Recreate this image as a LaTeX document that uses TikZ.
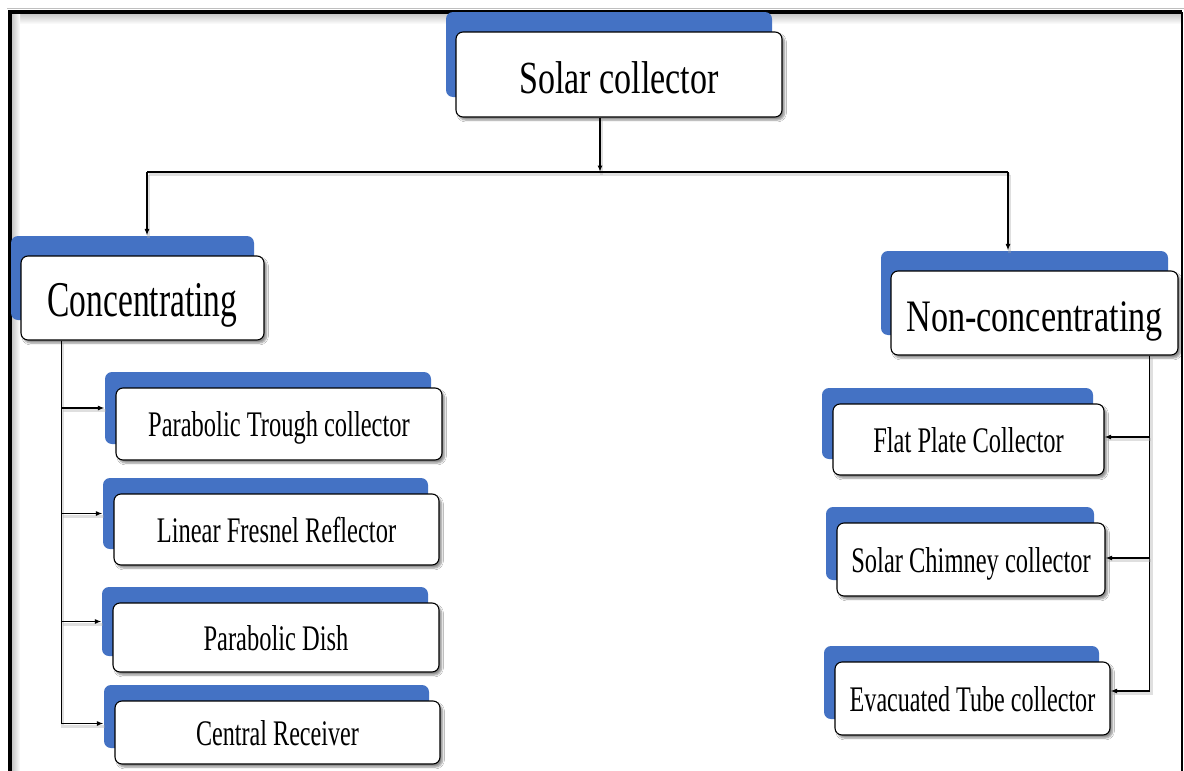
\documentclass[tikz,border=0pt]{standalone}
\usepackage{fontspec}
\setmainfont{Liberation Serif}
\usepackage{graphicx}
\usetikzlibrary{shadows,shadows.blur,arrows.meta}
\definecolor{pblue}{HTML}{4472C4}
\newcommand{\bxt}[3]{{\fontsize{#1pt}{#1pt}\selectfont\scalebox{#2}[1]{#3}}}
\tikzset{
  cbox/.style={draw=black, line width=1.1pt, rounded corners=7pt, fill=white, inner sep=0pt, text depth=0pt,
    blur shadow={shadow xshift=2.5pt, shadow yshift=-3pt, shadow blur steps=6, shadow opacity=45}},
  bigbox/.style={cbox, general shadow={fill=pblue, shadow xshift=-10pt, shadow yshift=20pt}},
  smallbox/.style={cbox, text height=25pt, general shadow={fill=pblue, shadow xshift=-11pt, shadow yshift=16pt}},
  lshadow/.style={preaction={draw=black!35, opacity=0.35, line width=3pt, arrows=-, transform canvas={xshift=1.5pt,yshift=-2.5pt}}},
  conn/.style={draw=black, line width=1.3pt, lshadow, -{Latex[length=6.5pt,width=5pt]}},
  plainline/.style={draw=black, line width=1.3pt, lshadow},
  barline/.style={draw=black, line width=2.2pt, lshadow},
}
\begin{document}
\begin{tikzpicture}[x=1pt,y=-1pt]
\useasboundingbox (0,0) rectangle (1184,771);
\fill[white] (0,0) rectangle (1184,771);
% frame
\draw[black!25, line width=1pt] (7,8.3) -- (1184,8.3);
\fill[top color=black!22, bottom color=white] (12,14) rectangle (1181,24);
\fill[left color=black!22, right color=white] (12,14) rectangle (20,771);
\draw[black, line width=4pt] (9.7,771) -- (9.7,12) -- (1182,12);
\draw[black, line width=1.6pt] (1182,12) -- (1182,771);

% nodes
\node[bigbox, text height=37.5pt, minimum width=326pt, minimum height=85pt] (sc) at (619,74.5) {\bxt{46}{0.74}{Solar collector}};
\node[bigbox, text height=36pt, minimum width=243pt, minimum height=84pt] (conc) at (142.5,298) {\bxt{50}{0.67}{Concentrating}};
\node[bigbox, text height=36.8pt, minimum width=287pt, minimum height=84pt] (nc) at (1034.5,313) {\bxt{45}{0.76}{Non-concentrating}};

\node[smallbox, minimum width=326pt, minimum height=72pt] (pt) at (279,424) {\bxt{36}{0.68}{Parabolic Trough collector}};
\node[smallbox, minimum width=325pt, minimum height=71pt] (lf) at (276.5,529.5) {\bxt{36}{0.68}{Linear Fresnel Reflector}};
\node[smallbox, minimum width=326pt, minimum height=69pt] (pd) at (276,637.5) {\bxt{36}{0.68}{Parabolic Dish}};
\node[smallbox, minimum width=325pt, minimum height=63pt] (cr) at (277.5,732.5) {\bxt{36}{0.67}{Central Receiver}};

\node[smallbox, minimum width=271pt, minimum height=71pt] (fp) at (968.5,439.5) {\bxt{36}{0.68}{Flat Plate Collector}};
\node[smallbox, minimum width=268pt, minimum height=73pt] (ch) at (971,559.5) {\bxt{36}{0.68}{Solar Chimney collector}};
\node[smallbox, minimum width=275pt, minimum height=73pt] (ev) at (972.5,698.5) {\bxt{36}{0.67}{Evacuated Tube collector}};

% top connectors
\coordinate (j) at (600,172);
\coordinate (jl) at (147,172);
\coordinate (jr) at (1008,172);
\coordinate (ctop) at ([yshift=20pt]conc.north);
\coordinate (ntop) at ([yshift=20pt]nc.north);
\draw[conn] (sc.south -| j) -- (j);
\draw[barline] (jl) -- (jr);
\draw[conn] (jl) -- (jl |- ctop);
\draw[conn] (jr) -- (jr |- ntop);

% left branch
\coordinate (lt) at ([xshift=41pt]conc.south west);
\coordinate (ptb) at ([xshift=-11pt,yshift=16pt]pt.west);
\coordinate (lfb) at ([xshift=-11pt,yshift=16pt]lf.west);
\coordinate (pdb) at ([xshift=-11pt,yshift=16pt]pd.west);
\coordinate (crb) at ([xshift=-11pt,yshift=9pt]cr.west);
\draw[conn] (lt) |- (crb);
\draw[conn] (lt |- ptb) -- (ptb);
\draw[conn] (lt |- lfb) -- (lfb);
\draw[conn] (lt |- pdb) -- (pdb);

% right branch
\coordinate (rt) at ([xshift=-29pt]nc.south east);
\coordinate (fpe) at ([yshift=2.5pt]fp.east);
\coordinate (che) at ([yshift=1.5pt]ch.east);
\coordinate (eve) at ([yshift=7.5pt]ev.east);
\draw[conn] (rt) |- (eve);
\draw[conn] (rt |- fpe) -- (fpe);
\draw[conn] (rt |- che) -- (che);
\end{tikzpicture}
\end{document}
